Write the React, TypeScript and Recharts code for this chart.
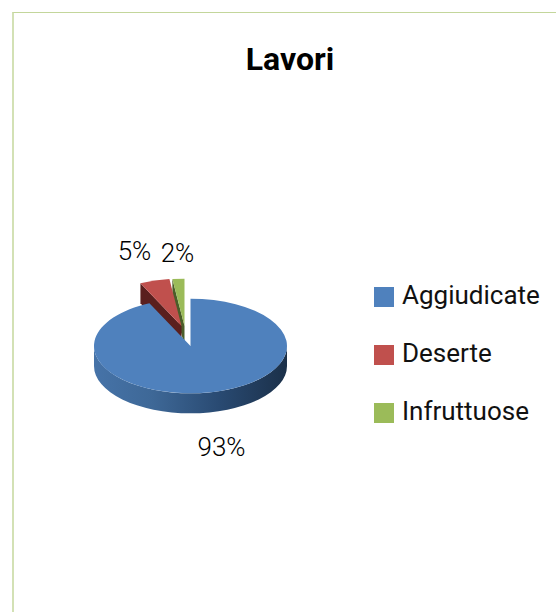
import React from "react";
import { PieChart, Pie, Cell, Legend } from "recharts";

// listed back to front so the big slice paints over the walls of the exploded ones
const CATEGORIES = ["Infruttuose", "Deserte", "Aggiudicate"];
const SHARES = [2, 5, 93];
const COLORS = ["#9bbb59", "#c0504d", "#4f81bd"];
const WALL_COLORS = ["#4b5e29", "#5a1f1e", "url(#blueWall)"];

const chartData = CATEGORIES.map((name, i) => ({ name, value: SHARES[i] }));

const SQUASH = 0.49;
const DEPTH = 20;
const FONT = "Roboto, sans-serif";

// how far each slice is pulled out of the pie, in px
const EXPLODE: Record<string, [number, number]> = {
	Infruttuose: [-6, -20],
	Deserte: [-9, -20],
	Aggiudicate: [0, 0],
};
const LABEL_POS: Record<string, [number, number]> = {
	Infruttuose: [-13, -93],
	Deserte: [-56, -95],
	Aggiudicate: [31, 101],
};

const rad = (a: number) => (a * Math.PI) / 180;

function Slice3D(props: any) {
	const { cx, cy, outerRadius: r, startAngle, endAngle, fill, name, index } = props;
	const [dx, dy] = EXPLODE[name] ?? [0, 0];
	const ry = r * SQUASH;
	const px = (a: number) => cx + dx + r * Math.cos(rad(a));
	const py = (a: number) => cy + dy - ry * Math.sin(rad(a));
	const ax = cx + dx;
	const ay = cy + dy;
	const large = endAngle - startAngle > 180 ? 1 : 0;
	const top = `M${ax},${ay} L${px(startAngle)},${py(startAngle)} A${r},${ry} 0 ${large} 0 ${px(endAngle)},${py(endAngle)} Z`;

	const wall = WALL_COLORS[index] ?? fill;
	let side: string;
	if (endAngle > 180) {
		// outer rim, only the front half shows
		const a0 = Math.max(startAngle, 180);
		const a1 = Math.min(endAngle, 360);
		side = `M${px(a0)},${py(a0)} A${r},${ry} 0 0 0 ${px(a1)},${py(a1)} L${px(a1)},${py(a1) + DEPTH} A${r},${ry} 0 0 1 ${px(a0)},${py(a0) + DEPTH} Z`;
	} else {
		// cut face on the left edge of a pulled out slice
		side = `M${ax},${ay} L${px(endAngle)},${py(endAngle)} L${px(endAngle)},${py(endAngle) + DEPTH} L${ax},${ay + DEPTH} Z`;
	}

	return (
		<g>
			<defs>
				<linearGradient id="blueWall" x1="0" y1="0" x2="1" y2="0">
					<stop offset="0%" stopColor="#4673a8" />
					<stop offset="30%" stopColor="#3e6897" />
					<stop offset="65%" stopColor="#294a72" />
					<stop offset="100%" stopColor="#1b3049" />
				</linearGradient>
			</defs>
			<path d={side} fill={wall} />
			<path d={top} fill={fill} />
		</g>
	);
}

function SliceLabel(props: any) {
	const { cx, cy, name, value } = props;
	const [dx, dy] = LABEL_POS[name] ?? [0, 0];
	return (
		<text
			x={cx + dx}
			y={cy + dy}
			textAnchor="middle"
			dominantBaseline="central"
			fontFamily={FONT}
			fontWeight={300}
			fontSize={26}
			fill="#000"
		>
			{value}%
		</text>
	);
}

function LegendList({ payload }: any) {
	return (
		<div>
			{(payload ?? []).map((entry: any) => (
				<div
					key={entry.value}
					style={{ display: "flex", alignItems: "center", height: 58, fontFamily: FONT, fontSize: 26, color: "#111" }}
				>
					<span style={{ width: 20, height: 20, background: entry.color, marginRight: 8, display: "inline-block" }} />
					<span style={{ position: "relative", top: -2 }}>{entry.value}</span>
				</div>
			))}
		</div>
	);
}

export default function App() {
	return (
		<div style={{ position: "absolute", left: 0, top: 0, width: 556, height: 612, overflow: "hidden", background: "#fff" }}>
			<div
				style={{
					position: "absolute",
					left: 12,
					top: 12,
					width: 544,
					height: 600,
					boxSizing: "border-box",
					borderTop: "1px solid #c3d69b",
					borderLeft: "2px solid #d3e1b5",
				}}
			/>
			<div
				style={{
					position: "absolute",
					left: 190,
					width: 200,
					top: 40,
					textAlign: "center",
					fontFamily: FONT,
					fontWeight: 700,
					fontSize: 32,
					lineHeight: "38px",
					color: "#000",
				}}
			>
				Lavori
			</div>
			<PieChart width={556} height={612} margin={{ top: 0, right: 0, bottom: 0, left: 0 }} style={{ position: "absolute", left: 0, top: 0 }}>
				<Pie
					data={chartData}
					dataKey="value"
					nameKey="name"
					cx={190.5}
					cy={346}
					outerRadius={96.5}
					startAngle={90}
					endAngle={450}
					shape={Slice3D}
					label={SliceLabel}
					labelLine={false}
					isAnimationActive={false}
				>
					{chartData.map((entry, idx) => (
						<Cell key={`cell-${idx}`} fill={COLORS[idx]} stroke="none" />
					))}
				</Pie>
				<Legend
					layout="vertical"
					align="right"
					verticalAlign="middle"
					content={LegendList}
					wrapperStyle={{ left: 374, top: 268, width: 180 }}
				/>
			</PieChart>
		</div>
	);
}
